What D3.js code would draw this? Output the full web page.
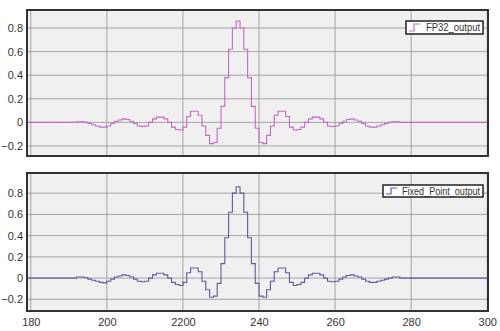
<!DOCTYPE html>
<html>
<head>
<meta charset="utf-8">
<script src="https://cdn.jsdelivr.net/npm/d3@7"></script>
<style>
  body { margin: 0; background: #fff; }
  svg { display: block; font-family: "Liberation Sans", Arial, sans-serif; }
  .tick text { fill: #333; font-size: 11px; }
</style>
</head>
<body>
<svg id="chart" width="500" height="331"></svg>
<script>
// x tick values and their labels (the 220 label reads "2200" in the original)
const xTicks = [180, 200, 220, 240, 260, 280, 300];
const xTickLabels = ["180", "200", "2200", "240", "260", "280", "300"];
const yTicks = [-0.2, 0, 0.2, 0.4, 0.6, 0.8];

// sample index of first value below; everything outside is 0
const firstSample = 190;

// FP32 filter output, one value per sample (held until the next sample)
const fp32Values = [
  0, 0, 0.005, 0.005, 0, -0.01, -0.02, -0.03, -0.04, -0.04,
  -0.03, -0.01, 0.01, 0.02, 0.03, 0.025, 0.01, -0.01, -0.03, -0.035,
  -0.03, 0, 0.03, 0.045, 0.045, 0.03, 0, -0.04, -0.06, -0.065,
  -0.04, 0.05, 0.095, 0.095, 0.06, -0.03, -0.11, -0.18, -0.17, -0.05,
  0.136, 0.38, 0.62, 0.80, 0.86, 0.80, 0.62, 0.38, 0.136, -0.05,
  -0.17, -0.18, -0.11, -0.03, 0.06, 0.095, 0.095, 0.05, -0.04, -0.065,
  -0.06, -0.04, 0, 0.03, 0.045, 0.045, 0.03, 0, -0.03, -0.035,
  -0.03, -0.01, 0.01, 0.025, 0.03, 0.02, 0.01, -0.01, -0.03, -0.04,
  -0.04, -0.03, -0.02, -0.01, 0, 0.005, 0.005, 0, 0
];

// Fixed point output, nearly the same as FP32
const fixedValues = [
  0, 0, 0.01, 0.01, 0.005, -0.01, -0.02, -0.03, -0.04, -0.045,
  -0.03, -0.01, 0.01, 0.02, 0.03, 0.025, 0.01, -0.01, -0.03, -0.035,
  -0.03, 0, 0.03, 0.045, 0.045, 0.03, 0, -0.04, -0.06, -0.07,
  -0.04, 0.05, 0.095, 0.095, 0.06, -0.03, -0.11, -0.18, -0.17, -0.05,
  0.136, 0.38, 0.62, 0.80, 0.86, 0.80, 0.62, 0.38, 0.136, -0.05,
  -0.17, -0.18, -0.11, -0.03, 0.06, 0.095, 0.095, 0.05, -0.04, -0.07,
  -0.06, -0.04, 0, 0.03, 0.045, 0.045, 0.03, 0, -0.03, -0.035,
  -0.03, -0.01, 0.01, 0.025, 0.03, 0.02, 0.01, -0.01, -0.03, -0.04,
  -0.04, -0.03, -0.02, -0.01, 0, 0.01, 0.01, 0, 0
];

const xDomain = [179, 300.2];

const panels = [
  { name: "FP32_output", values: fp32Values, color: "#c866c6",
    top: 10, bottom: 156, yDomain: [-0.285, 0.953],
    legend: { x: 406, y: 21, w: 77, h: 13, icon: 3, text: 54 } },
  { name: "Fixed_Point_output", values: fixedValues, color: "#5a5c9e",
    top: 173, bottom: 311, yDomain: [-0.31, 0.99],
    legend: { x: 383, y: 185, w: 100, h: 12, icon: 3, text: 78 } }
];

const left = 27, right = 488;
const svg = d3.select("#chart");

const x = d3.scaleLinear().domain(xDomain).range([left, right]);

function toPoints(values) {
  let pts = [{ x: xDomain[0], y: 0 }];
  values.forEach((v, i) => pts.push({ x: firstSample + i, y: v }));
  pts.push({ x: xDomain[1], y: 0 });
  return pts;
}

panels.forEach((p, idx) => {
  let y = d3.scaleLinear().domain(p.yDomain).range([p.bottom, p.top]);
  let g = svg.append("g");

  // plot background
  g.append("rect")
    .attr("x", left).attr("y", p.top)
    .attr("width", right - left).attr("height", p.bottom - p.top)
    .attr("fill", "#f0f0f0");

  // grid
  g.append("g").selectAll("line").data(xTicks).enter().append("line")
    .attr("x1", d => x(d)).attr("x2", d => x(d))
    .attr("y1", p.top).attr("y2", p.bottom)
    .attr("stroke", "#a4a4a4").attr("stroke-width", 1);
  g.append("g").selectAll("line").data(yTicks).enter().append("line")
    .attr("x1", left).attr("x2", right)
    .attr("y1", d => y(d)).attr("y2", d => y(d))
    .attr("stroke", "#a4a4a4").attr("stroke-width", 1);

  // y axis labels
  let yAxis = g.append("g")
    .attr("transform", `translate(${left - 2},0)`)
    .call(d3.axisLeft(y).tickValues(yTicks).tickSize(0).tickPadding(2)
      .tickFormat(d => d === 0 ? "0" : d3.format(".1f")(d)));
  yAxis.select(".domain").remove();

  // x axis labels only on the bottom panel
  if (idx === panels.length - 1) {
    let xAxis = g.append("g")
      .attr("transform", `translate(0,${p.bottom})`)
      .call(d3.axisBottom(x).tickValues(xTicks).tickSize(0).tickPadding(7)
        .tickFormat((d, i) => xTickLabels[i]));
    xAxis.select(".domain").remove();
  }

  // step line
  let line = d3.line()
    .x(d => x(d.x)).y(d => y(d.y))
    .curve(d3.curveStepAfter);

  g.append("path")
    .datum(toPoints(p.values))
    .attr("fill", "none")
    .attr("stroke", p.color)
    .attr("stroke-width", 1.1)
    .attr("d", line);

  // frame
  g.append("rect")
    .attr("x", left).attr("y", p.top)
    .attr("width", right - left).attr("height", p.bottom - p.top)
    .attr("fill", "none").attr("stroke", "#333").attr("stroke-width", 2);

  // legend
  let L = p.legend;
  let lg = g.append("g").attr("transform", `translate(${L.x},${L.y})`);
  lg.append("rect")
    .attr("width", L.w).attr("height", L.h)
    .attr("fill", "#fff").attr("stroke", "#222").attr("stroke-width", 1.5);
  lg.append("path")
    .attr("d", `M${L.icon},${L.h - 3}H${L.icon + 5}V3H${L.icon + 11}`)
    .attr("fill", "none").attr("stroke", p.color).attr("stroke-width", 1.2);
  lg.append("text")
    .attr("x", L.w - 3 - L.text).attr("y", L.h / 2 + 3.5)
    .attr("font-size", 10).attr("fill", "#333")
    .attr("textLength", L.text).attr("lengthAdjust", "spacingAndGlyphs")
    .text(p.name);
});
</script>
</body>
</html>
